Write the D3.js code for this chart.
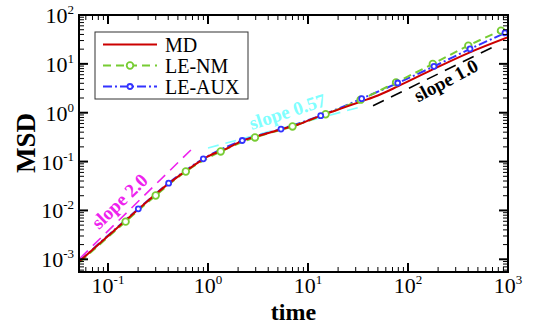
<!DOCTYPE html>
<html lang="en">
<head>
<meta charset="UTF-8">
<title>MSD vs time</title>
<script src="https://d3js.org/d3.v7.min.js"></script>
<style>
  body{margin:0;background:#fff;}
  svg{display:block;}
  text{font-family:"Liberation Serif","Times New Roman",serif;fill:#000;}
</style>
</head>
<body>
<script>
// MD (reference)
const mdTime = [0.0525, 0.1, 0.2, 0.4, 0.7, 1.0, 1.5, 2.2, 3.5, 5.4, 8, 13, 20, 34, 50, 80, 175, 400, 1000]
const mdMsd  = [9.3e-4, 3.0e-3, 0.0105, 0.035, 0.08, 0.128, 0.18, 0.265, 0.355, 0.46, 0.575, 0.85, 1.16, 1.7, 2.25, 3.5, 7.6, 16.6, 35]
// LE-NM
const nmTime = [0.0525, 0.15, 0.3, 0.6, 1.34, 2.95, 7.0, 15, 33.6, 76, 177, 401, 851, 1000]
const nmMsd  = [8.8e-4, 5.9e-3, 0.0202, 0.0627, 0.161, 0.312, 0.524, 0.93, 1.85, 4.18, 9.95, 23.6, 47.9, 55]
// LE-AUX
const auxTime = [0.0525, 0.201, 0.404, 0.898, 2.2, 5.37, 13.4, 34.4, 78.9, 182, 417, 933, 1000]
const auxMsd  = [9.3e-4, 0.0108, 0.0362, 0.114, 0.27, 0.463, 0.869, 1.94, 4.06, 8.89, 20.2, 43, 46]

// guide lines (end points)
const g2Time = [0.0525, 0.72],  g2Msd = [1.05e-3, 0.197]
const g057Time = [1.0, 31.6],   g057Msd = [0.19, 1.27]
const g1Time = [44.7, 770],     g1Msd = [1.39, 24]

const legendNames = ["MD", "LE-NM", "LE-AUX"]
const xTickExp = [-1, 0, 1, 2, 3]
const yTickExp = [-3, -2, -1, 0, 1, 2]

const W = 536, H = 324
const m = {left: 79, right: 28, top: 15, bottom: 52}

const svg = d3.select("body").append("svg").attr("width", W).attr("height", H)

const x = d3.scaleLog().domain([Math.pow(10, -1.29), 1000]).range([m.left, W - m.right])
const y = d3.scaleLog().domain([Math.pow(10, -3.26), 100]).range([H - m.bottom, m.top])

const x0 = m.left, x1 = W - m.right, y0 = H - m.bottom, y1 = m.top

const plot = svg.append("g")
svg.append("clipPath").attr("id", "clip").append("rect")
    .attr("x", x0).attr("y", y1).attr("width", x1 - x0).attr("height", y0 - y1)
const curves = plot.append("g").attr("clip-path", "url(#clip)")

const line = d3.line().x(d => x(d[0])).y(d => y(d[1])).curve(d3.curveMonotoneX)
const zip = (a, b) => a.map((v, i) => [v, b[i]])

// guide lines
function guide(t, v, color, dash){
    curves.append("path").datum(zip(t, v)).attr("d", d3.line().x(d => x(d[0])).y(d => y(d[1])))
        .attr("fill", "none").attr("stroke", color).attr("stroke-width", 1.6).attr("stroke-dasharray", dash)
}
guide(g2Time, g2Msd, "#ee22ee", "11,7")
guide(g057Time, g057Msd, "#80ffff", "11,7")
guide(g1Time, g1Msd, "#000", "12,8")

const series = [
    {name: "MD", t: mdTime, v: mdMsd, color: "#cc0000", dash: null, marker: false},
    {name: "LE-NM", t: nmTime, v: nmMsd, color: "#77cc33", dash: "8,5", marker: "nm"},
    {name: "LE-AUX", t: auxTime, v: auxMsd, color: "#3333ff", dash: "9,3,2,3", marker: "aux"}
]

series.slice().reverse().forEach(s => {
    curves.append("path").datum(zip(s.t, s.v)).attr("d", line)
        .attr("fill", "none").attr("stroke", s.color).attr("stroke-width", 2)
        .attr("stroke-dasharray", s.dash)
})
series.forEach(s => {
    if (!s.marker) return
    const pts = zip(s.t, s.v).slice(1, -1)
    curves.selectAll(null).data(pts).enter().append("circle")
        .attr("cx", d => x(d[0])).attr("cy", d => y(d[1]))
        .attr("r", s.marker === "nm" ? 3.3 : 2.5)
        .attr("fill", "white").attr("stroke", s.color).attr("stroke-width", 1.8)
})

// slope labels
const labels = [
    {text: "slope 2.0", t: 0.1445, v: 0.0124, angle: -44, color: "#ee22ee"},
    {text: "slope 0.57", t: 6.53, v: 0.79, angle: -18, color: "#80ffff"},
    {text: "slope 1.0", t: 257, v: 3.49, angle: -28, color: "#000"}
]
plot.selectAll(null).data(labels).enter().append("text")
    .attr("transform", d => `translate(${x(d.t)},${y(d.v)}) rotate(${d.angle})`)
    .attr("text-anchor", "middle").attr("font-size", 19).attr("font-weight", "bold")
    .style("fill", d => d.color).text(d => d.text)

// ticks
const axes = svg.append("g")
const isMajor = v => Math.abs(Math.log10(v) - Math.round(Math.log10(v))) < 1e-6
x.ticks().forEach(v => {
    const px = x(v), len = isMajor(v) ? 9 : 5, sw = isMajor(v) ? 2 : 1
    axes.append("line").attr("x1", px).attr("x2", px).attr("y1", y0).attr("y2", y0 - len).attr("stroke", "#000").attr("stroke-width", sw)
    axes.append("line").attr("x1", px).attr("x2", px).attr("y1", y1).attr("y2", y1 + len).attr("stroke", "#000").attr("stroke-width", sw)
})
y.ticks().forEach(v => {
    const py = y(v), len = isMajor(v) ? 9 : 5, sw = isMajor(v) ? 2 : 1
    axes.append("line").attr("y1", py).attr("y2", py).attr("x1", x0).attr("x2", x0 + len).attr("stroke", "#000").attr("stroke-width", sw)
    axes.append("line").attr("y1", py).attr("y2", py).attr("x1", x1).attr("x2", x1 - len).attr("stroke", "#000").attr("stroke-width", sw)
})
axes.append("rect").attr("x", x0).attr("y", y1).attr("width", x1 - x0).attr("height", y0 - y1)
    .attr("fill", "none").attr("stroke", "#000").attr("stroke-width", 2)

// tick labels
xTickExp.forEach(e => {
    const t = axes.append("text").attr("x", x(Math.pow(10, e))).attr("y", 293)
        .attr("text-anchor", "middle").attr("font-size", 22)
    t.append("tspan").text("10")
    t.append("tspan").attr("dy", -9).attr("font-size", 13).text(e)
})
yTickExp.forEach(e => {
    const t = axes.append("text").attr("x", 74).attr("y", y(Math.pow(10, e)) + 8)
        .attr("text-anchor", "end").attr("font-size", 22)
    t.append("tspan").text("10")
    t.append("tspan").attr("dy", -9).attr("font-size", 13).text(e)
})

// axis titles
svg.append("text").attr("x", (x0 + x1) / 2).attr("y", 320).attr("text-anchor", "middle")
    .attr("font-size", 24).attr("font-weight", "bold").text("time")
svg.append("text").attr("transform", `translate(35,143) rotate(-90)`).attr("text-anchor", "middle")
    .attr("font-size", 27).attr("font-weight", "bold").text("MSD")

// legend
const lg = svg.append("g")
lg.append("rect").attr("x", 95).attr("y", 32).attr("width", 153).attr("height", 67)
    .attr("fill", "white").attr("stroke", "#333").attr("stroke-width", 1)
series.forEach((s, i) => {
    const ly = 44.5 + i * 21
    lg.append("line").attr("x1", 103).attr("x2", 157).attr("y1", ly).attr("y2", ly)
        .attr("stroke", s.color).attr("stroke-width", 2).attr("stroke-dasharray", s.dash)
    if (s.marker) lg.append("circle").attr("cx", 130).attr("cy", ly).attr("r", s.marker === "nm" ? 3.3 : 2.5)
        .attr("fill", "white").attr("stroke", s.color).attr("stroke-width", 1.8)
    lg.append("text").attr("x", 165).attr("y", ly + 7).attr("font-size", 20).text(legendNames[i])
})
</script>
</body>
</html>
